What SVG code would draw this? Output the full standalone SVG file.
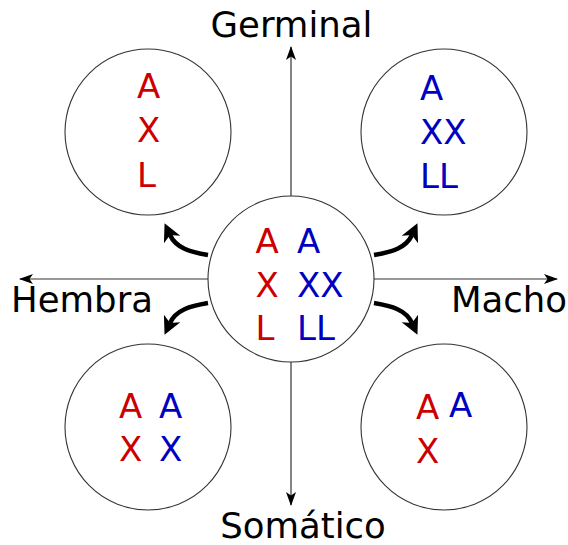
<svg xmlns="http://www.w3.org/2000/svg" width="568" height="545" viewBox="0 0 568 545">
<defs>
<style>
.circ{fill:#fff;stroke:#333;stroke-width:1.1}
.axis{fill:none;stroke:#333;stroke-width:1.2}
.curve{fill:none;stroke:#000;stroke-width:4.5}
.t{font-family:"DejaVu Sans",sans-serif;font-size:34px}
.lab{font-family:"DejaVu Sans",sans-serif;font-size:35.5px;fill:#000}
.r{fill:#cc0000}
.b{fill:#0000c0}
</style>
<marker id="ah" viewBox="0 0 14 10" refX="13" refY="5" markerWidth="14" markerHeight="10" markerUnits="userSpaceOnUse" orient="auto">
<path d="M0,0 L14,5 L0,10 L3.5,5 Z" fill="#000"/>
</marker>
<marker id="bh" viewBox="0 0 18 18" refX="5" refY="9" markerWidth="18" markerHeight="18" markerUnits="userSpaceOnUse" orient="auto">
<path d="M0,0 L18,9 L0,18 L5,9 Z" fill="#000"/>
</marker>
</defs>
<g id="connectors">
<line class="axis" x1="291" y1="279" x2="20" y2="279" marker-end="url(#ah)"/>
<line class="axis" x1="291" y1="279" x2="557" y2="279" marker-end="url(#ah)"/>
<line class="axis" x1="291" y1="279" x2="291" y2="47" marker-end="url(#ah)"/>
<line class="axis" x1="291" y1="279" x2="291" y2="505" marker-end="url(#ah)"/>
<path class="curve" d="M208,255 C190,252 176,248 170,235" marker-end="url(#bh)"/>
<path class="curve" d="M208,303 C190,306 176,310 170,323" marker-end="url(#bh)"/>
<path class="curve" d="M374,255 C392,252 406,248 412,235" marker-end="url(#bh)"/>
<path class="curve" d="M374,303 C392,306 406,310 412,323" marker-end="url(#bh)"/>
</g>
<g id="center">
<circle class="circ" cx="291" cy="279" r="83"/>
<text class="t r" x="255.5" y="253">A</text>
<text class="t r" x="255.5" y="297">X</text>
<text class="t r" x="255.5" y="340">L</text>
<text class="t b" x="297" y="253">A</text>
<text class="t b" x="297" y="297">XX</text>
<text class="t b" x="297" y="340">LL</text>
</g>
<g id="top-left">
<circle class="circ" cx="148" cy="132" r="83"/>
<text class="t r" x="137" y="98">A</text>
<text class="t r" x="137" y="142">X</text>
<text class="t r" x="137" y="187">L</text>
</g>
<g id="top-right">
<circle class="circ" cx="444" cy="132" r="83"/>
<text class="t b" x="420" y="100">A</text>
<text class="t b" x="420" y="144">XX</text>
<text class="t b" x="420" y="188">LL</text>
</g>
<g id="bottom-left">
<circle class="circ" cx="148" cy="427" r="83"/>
<text class="t r" x="119" y="418">A</text>
<text class="t r" x="119" y="461">X</text>
<text class="t b" x="159" y="418">A</text>
<text class="t b" x="159" y="461">X</text>
</g>
<g id="bottom-right">
<circle class="circ" cx="444" cy="427" r="83"/>
<text class="t r" x="416" y="419">A</text>
<text class="t r" x="416" y="463">X</text>
<text class="t b" x="449" y="417">A</text>
</g>
<g id="labels">
<text class="lab" x="291.5" y="37" text-anchor="middle">Germinal</text>
<text class="lab" x="303" y="538" text-anchor="middle">Somático</text>
<text class="lab" x="11" y="312">Hembra</text>
<text class="lab" x="567" y="312" text-anchor="end">Macho</text>
</g>
</svg>
